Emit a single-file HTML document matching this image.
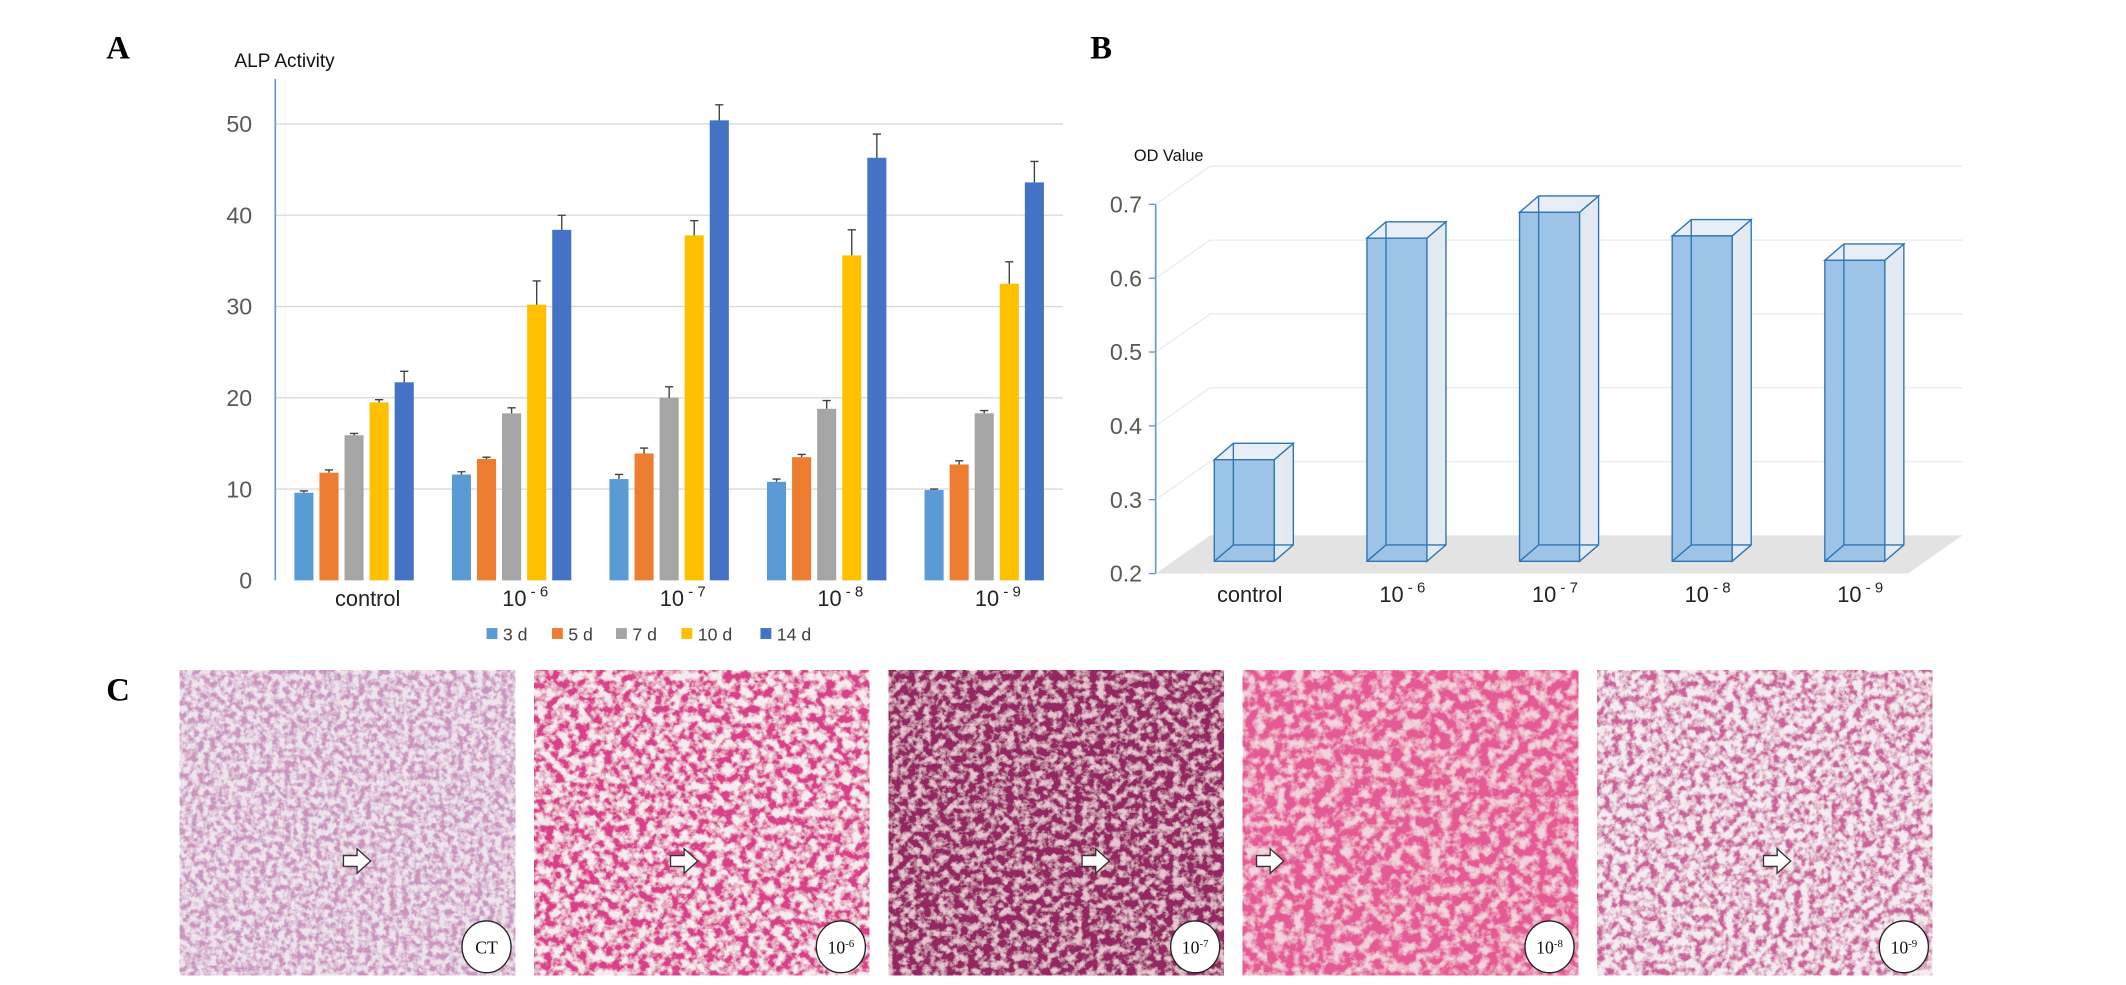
<!DOCTYPE html>
<html><head><meta charset="utf-8">
<style>
html,body{margin:0;padding:0;background:#fff;}
svg{display:block;}
text{font-family:"Liberation Sans",sans-serif;}
</style></head>
<body>
<svg id="fig" width="2126" height="985" viewBox="0 0 1560 723" preserveAspectRatio="none" xmlns="http://www.w3.org/2000/svg">
<defs>
<filter id="tex1" x="0" y="0" width="1" height="1"><feTurbulence type="fractalNoise" baseFrequency="0.22" numOctaves="4" seed="3"/><feColorMatrix type="matrix" values="0 0 0 0 0.6  0 0 0 0 0.3  0 0 0 0 0.52  3.4 0 0 0 -1.25"/><feMerge><feMergeNode in="SourceGraphic"/><feMergeNode/></feMerge></filter>
<filter id="tex2" x="0" y="0" width="1" height="1"><feTurbulence type="fractalNoise" baseFrequency="0.16" numOctaves="4" seed="7"/><feColorMatrix type="matrix" values="0 0 0 0 0.7  0 0 0 0 0.05  0 0 0 0 0.25  3.8 0 0 0 -1.35"/><feMerge><feMergeNode in="SourceGraphic"/><feMergeNode/></feMerge></filter>
<filter id="tex3" x="0" y="0" width="1" height="1"><feTurbulence type="fractalNoise" baseFrequency="0.18" numOctaves="4" seed="11"/><feColorMatrix type="matrix" values="0 0 0 0 0.3  0 0 0 0 0.02  0 0 0 0 0.12  3.8 0 0 0 -1.15"/><feMerge><feMergeNode in="SourceGraphic"/><feMergeNode/></feMerge></filter>
<filter id="tex4" x="0" y="0" width="1" height="1"><feTurbulence type="fractalNoise" baseFrequency="0.14" numOctaves="4" seed="5"/><feColorMatrix type="matrix" values="0 0 0 0 0.78  0 0 0 0 0.1  0 0 0 0 0.3  3.6 0 0 0 -1.1"/><feMerge><feMergeNode in="SourceGraphic"/><feMergeNode/></feMerge></filter>
<filter id="tex5" x="0" y="0" width="1" height="1"><feTurbulence type="fractalNoise" baseFrequency="0.18" numOctaves="4" seed="9"/><feColorMatrix type="matrix" values="0 0 0 0 0.6  0 0 0 0 0.12  0 0 0 0 0.32  3.6 0 0 0 -1.4"/><feMerge><feMergeNode in="SourceGraphic"/><feMergeNode/></feMerge></filter>
</defs>

<text x="78" y="43" font-weight="bold" font-size="24" style="font-family:'Liberation Serif',serif">A</text>
<text x="800" y="43" font-weight="bold" font-size="24" style="font-family:'Liberation Serif',serif">B</text>
<text x="78" y="514" font-weight="bold" font-size="24" style="font-family:'Liberation Serif',serif">C</text>

<g id="chartA"></g>
<g id="chartB"></g>
<g id="panelC"></g>
</svg>
<script>
const NS='http://www.w3.org/2000/svg';
function mk(tag,attrs,parent){const e=document.createElementNS(NS,tag);for(const k in attrs)e.setAttribute(k,attrs[k]);parent.appendChild(e);return e;}

// ---- Chart A data ----
const catsA=['control','10','10','10','10'];
const catExpA=['','- 6','- 7','- 8','- 9'];
const seriesNames=['3 d','5 d','7 d','10 d','14 d'];
const s3d=[9.6,11.6,11.1,10.8,9.9];
const s5d=[11.8,13.3,13.9,13.5,12.7];
const s7d=[15.9,18.3,20.0,18.8,18.3];
const s10d=[19.5,30.2,37.8,35.6,32.5];
const s14d=[21.7,38.4,50.4,46.3,43.6];
const e3d=[0.2,0.3,0.5,0.3,0.1];
const e5d=[0.3,0.2,0.6,0.3,0.4];
const e7d=[0.2,0.6,1.2,0.9,0.3];
const e10d=[0.3,2.6,1.6,2.8,2.4];
const e14d=[1.2,1.6,1.7,2.6,2.3];
const ticksA=[0,10,20,30,40,50];
const colorsA=['#5b9bd5','#ed7d31','#a5a5a5','#ffc000','#4472c4'];

const A=document.getElementById('chartA');
const ax0=202,ax1=780,ay0=426,ayPer=6.7;
const yA=v=>ay0-v*ayPer;
const xGroupA=i=>ax0+(ax1-ax0)/catsA.length*(i+0.5);
let t=mk('text',{x:172,y:49,'font-size':14,fill:'#111'},A);t.textContent='ALP Activity';


ticksA.forEach(v=>{
  if(v>0){const g=mk('line',{x1:ax0,x2:ax1,y1:yA(v),y2:yA(v),stroke:'#d9d9d9','stroke-width':1},A);
  
  }
  const l=mk('text',{x:185,y:yA(v)+6,'font-size':17,fill:'#595959','text-anchor':'end'},A);l.textContent=v;
  
  
});
let axl=mk('line',{x1:ax0,x2:ax0,y1:58,y2:ay0,stroke:'#5b9bd5','stroke-width':1.2},A);


const seriesA=[s3d,s5d,s7d,s10d,s14d],errA=[e3d,e5d,e7d,e10d,e14d];
const bw=14,step=18.4;
catsA.forEach((c,i)=>{
  const cx=xGroupA(i);
  seriesA.forEach((s,j)=>{
    const x=cx+(j-2)*step-bw/2;
    const r=mk('rect',{x:x,y:yA(s[i]),width:bw,height:ay0-yA(s[i]),fill:colorsA[j]},A);
    
    
    const top=yA(s[i]+errA[j][i]),mx=x+bw/2;
    const eb=mk('path',{d:`M${mx} ${yA(s[i])}V${top}M${mx-3} ${top}H${mx+3}`,stroke:'#404040','stroke-width':1,fill:'none'},A);
    
    
  });
  const lb=mk('text',{x:cx+10,y:445,'font-size':16,fill:'#222','text-anchor':'middle'},A);
  
  
  lb.appendChild(document.createTextNode(c));
  if(catExpA[i]){const ts=mk('tspan',{dy:-7,'font-size':11},lb);ts.textContent=' '+catExpA[i];}
});
const legX=[357,405,452,500,558];
seriesNames.forEach((n,j)=>{
  const sq=mk('rect',{x:legX[j],y:461,width:8,height:8,fill:colorsA[j]},A);
  
  
  const lt=mk('text',{x:legX[j]+12,y:470,'font-size':13,fill:'#404040'},A);lt.textContent=n;
  
  
});

// ---- Chart B data ----
const catsB=['control','10','10','10','10'];
const catExpB=['','- 6','- 7','- 8','- 9'];
const odVals=[0.345,0.645,0.68,0.648,0.615];
const ticksB=[0.2,0.3,0.4,0.5,0.6,0.7];

const B=document.getElementById('chartB');
const bx0=848,bx1=1400,by0=421,byPer=542,dX=40,dY=-28;
const yB=v=>by0-(v-0.2)*byPer;
const xB=i=>913+i*112;
t=mk('text',{x:832,y:118,'font-size':12,fill:'#111'},B);t.textContent='OD Value';


let fl=mk('polygon',{points:`${bx0},${by0} ${bx0+dX},${by0+dY} ${bx1+dX},${by0+dY} ${bx1},${by0}`,fill:'#e3e3e3'},B);


ticksB.forEach(v=>{
  if(v>0.2){const g=mk('polyline',{points:`${bx0},${yB(v)} ${bx0+dX},${yB(v)+dY} ${bx1+dX},${yB(v)+dY}`,stroke:'#ececec','stroke-width':1,fill:'none'},B);
  
  }
  const l=mk('text',{x:838,y:yB(v)+6,'font-size':17,fill:'#595959','text-anchor':'end'},B);l.textContent=v.toFixed(1);
  
  
  const tk=mk('line',{x1:bx0-5,x2:bx0,y1:yB(v),y2:yB(v),stroke:'#5b9bd5'},B);
  
  
});
let axb=mk('line',{x1:bx0,x2:bx0,y1:yB(0.7),y2:by0,stroke:'#5b9bd5','stroke-width':1.2},B);


const bwB=44,ddx=14,ddy=-12,base=412;
odVals.forEach((v,i)=>{
  const x=xB(i)-bwB/2,top=yB(v)-5;
  const g=mk('g',{},B);
  
  
  mk('polygon',{points:`${x+bwB},${base} ${x+bwB+ddx},${base+ddy} ${x+bwB+ddx},${top+ddy} ${x+bwB},${top}`,fill:'#e4eaf1',stroke:'#2e75b6','stroke-width':1},g);
  mk('polygon',{points:`${x},${top} ${x+ddx},${top+ddy} ${x+bwB+ddx},${top+ddy} ${x+bwB},${top}`,fill:'#e8eef5',stroke:'#2e75b6','stroke-width':1},g);
  mk('rect',{x:x,y:top,width:bwB,height:base-top,fill:'#9dc3e6',stroke:'#2e75b6','stroke-width':1},g);
  mk('line',{x1:x+ddx,x2:x+ddx,y1:top+ddy,y2:base+ddy,stroke:'#2e75b6','stroke-width':1},g);
  mk('line',{x1:x,x2:x+ddx,y1:base,y2:base+ddy,stroke:'#2e75b6','stroke-width':1},g);
  mk('line',{x1:x+ddx,x2:x+bwB+ddx,y1:base+ddy,y2:base+ddy,stroke:'#2e75b6','stroke-width':1},g);
  const lb=mk('text',{x:xB(i)+4,y:442,'font-size':16,fill:'#222','text-anchor':'middle'},B);
  
  
  lb.appendChild(document.createTextNode(catsB[i]));
  if(catExpB[i]){const ts=mk('tspan',{dy:-7,'font-size':11},lb);ts.textContent=' '+catExpB[i];}
});

// ---- Panel C ----
const C=document.getElementById('panelC');
const imgX=[132,392,652,912,1172];
const imgBase=['#ede4ec','#f6ecf0','#e8c4d0','#f2d2dc','#f4eaef'];
const imgLab=['CT','10','10','10','10'];
const imgExp=['','-6','-7','-8','-9'];
const arrowPos=[[120,140],[100,140],[142,140],[10,140],[122,140]];
imgX.forEach((x,i)=>{
  const g=mk('g',{},C);
  
  
  mk('rect',{x:x,y:492,width:246,height:224,fill:imgBase[i],filter:`url(#tex${i+1})`},g);
  const ax=x+arrowPos[i][0],ay=492+arrowPos[i][1];
  const ar=mk('path',{d:`M${ax} ${ay-4}h10v-5l10 9l-10 9v-5h-10z`,fill:'#fff',stroke:'#333','stroke-width':1},g);
  
  
  const ci=mk('ellipse',{cx:x+225,cy:695,rx:18,ry:19,fill:'#fff',stroke:'#222','stroke-width':1},g);
  
  
  const tx=mk('text',{x:x+225,y:700,'font-size':13,'text-anchor':'middle',fill:'#111',style:"font-family:'Liberation Serif',serif"},g);
  
  
  tx.appendChild(document.createTextNode(imgLab[i]));
  if(imgExp[i]){const ts=mk('tspan',{dy:-5,'font-size':8},tx);ts.textContent=imgExp[i];}
});
</script>
</body></html>
